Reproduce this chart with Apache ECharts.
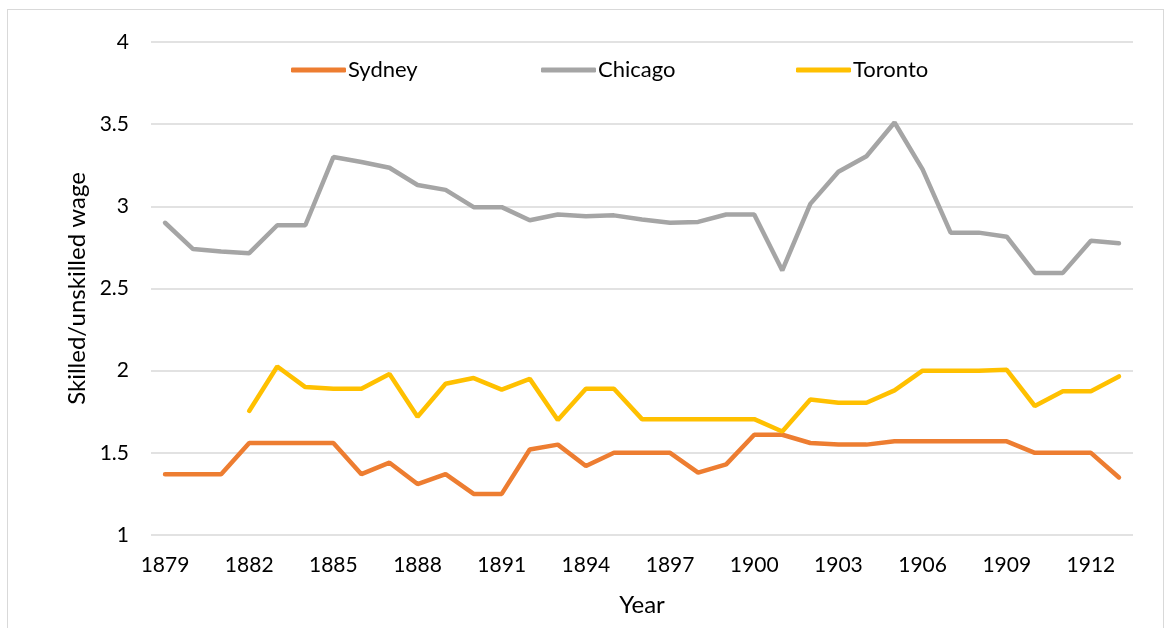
<!DOCTYPE html>
<html>
<head>
<meta charset="utf-8">
<script src="https://cdn.jsdelivr.net/npm/echarts@6/dist/echarts.min.js"></script>
<style>
    html, body { margin: 0; padding: 0; background: #fff; }
    #frame { position: absolute; left: 7px; top: 9px; width: 1155px; height: 640px; border: 1px solid #d9d9d9; }
    #main { position: absolute; left: 0; top: 0; width: 1170px; height: 628px; }
</style>
</head>
<body>
<div id="frame"></div>
<div id="main"></div>
<script>
    // years 1879-1913
    var years = [];
    for (var y = 1879; y <= 1913; y++) { years.push(String(y)); }

    var sydney = [1.37, 1.37, 1.37, 1.56, 1.56, 1.56, 1.56, 1.37, 1.44, 1.31, 1.37, 1.25,
        1.25, 1.52, 1.55, 1.42, 1.50, 1.50, 1.50, 1.38, 1.43, 1.61, 1.61, 1.56,
        1.55, 1.55, 1.57, 1.57, 1.57, 1.57, 1.57, 1.50, 1.50, 1.50, 1.35];

    var chicago = [2.90, 2.74, 2.725, 2.715, 2.885, 2.885, 3.30, 3.27, 3.235, 3.13, 3.10, 2.995,
        2.995, 2.915, 2.95, 2.94, 2.945, 2.92, 2.90, 2.905, 2.95, 2.95, 2.61, 3.015,
        3.21, 3.305, 3.51, 3.225, 2.84, 2.84, 2.815, 2.595, 2.595, 2.79, 2.775];

    var toronto = ['-', '-', '-', 1.755, 2.025, 1.90, 1.89, 1.89, 1.98, 1.72, 1.92, 1.955,
        1.885, 1.95, 1.70, 1.89, 1.89, 1.705, 1.705, 1.705, 1.705, 1.705, 1.63, 1.825,
        1.805, 1.805, 1.88, 2.0, 2.0, 2.0, 2.005, 1.785, 1.875, 1.875, 1.965];

    var font = 'Lato, "Open Sans", sans-serif';

    // one legend per item so the slots sit where the original has them
    function legendAt(name, left) {
        return {
            data: [name],
            left: left,
            top: 54,
            itemWidth: 55,
            itemHeight: 5,
            icon: 'roundRect',
            textStyle: { fontFamily: font, fontSize: 22, color: '#000', padding: [0, 0, 0, -3] }
        };
    }

    var chart = echarts.init(document.getElementById('main'));
    chart.setOption({
        animation: false,
        color: ['#ED7D31', '#A5A5A5', '#FFC000'],
        textStyle: { fontFamily: font },
        legend: [legendAt('Sydney', 286), legendAt('Chicago', 536), legendAt('Toronto', 791)],
        grid: { left: 151, right: 37, top: 42, bottom: 93 },
        xAxis: {
            type: 'category',
            data: years,
            boundaryGap: true,
            name: 'Year',
            nameLocation: 'middle',
            nameGap: 58,
            nameTextStyle: { fontFamily: font, fontSize: 24, color: '#000' },
            axisLine: { show: false },
            axisTick: { show: false },
            axisLabel: { interval: 2, margin: 20, fontSize: 21, color: '#000', fontFamily: font }
        },
        yAxis: {
            type: 'value',
            min: 1,
            max: 4,
            interval: 0.5,
            name: 'Skilled/unskilled wage',
            nameLocation: 'middle',
            nameGap: 61,
            nameTextStyle: { fontFamily: font, fontSize: 24, color: '#000' },
            axisLabel: { margin: 22, fontSize: 21, color: '#000', fontFamily: font },
            splitLine: { lineStyle: { color: '#d9d9d9', width: 1.5 } }
        },
        series: [
            { name: 'Sydney', type: 'line', data: sydney, symbol: 'none', lineStyle: { width: 4.5, cap: 'round' } },
            { name: 'Chicago', type: 'line', data: chicago, symbol: 'none', lineStyle: { width: 4.5, cap: 'round' } },
            { name: 'Toronto', type: 'line', data: toronto, symbol: 'none', lineStyle: { width: 4.5, cap: 'round' } }
        ]
    });
</script>
</body>
</html>
